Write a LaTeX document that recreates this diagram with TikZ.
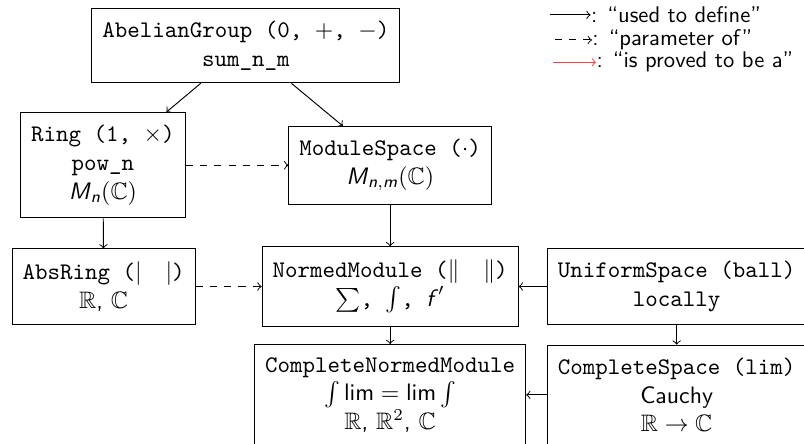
\documentclass[tikz,border=0pt]{standalone}
\usepackage{amsmath,amssymb}
\usetikzlibrary{positioning}
\newcommand\mi[1]{\text{\sffamily\itshape #1\/}}
\newcommand\slim{\mathop{\text{\sffamily lim}}}

\begin{document}
\sffamily
\begin{tikzpicture}[box/.style={draw,align=center,inner xsep=4.4pt,inner ysep=5.4pt},legend/.style={anchor=west,inner sep=0pt,font=\fontsize{9.5}{11}\selectfont}]
\useasboundingbox (0,0) rectangle (11.87,-6.55);
\clip (0,0) rectangle (11.87,-6.55);
\node[box] (grp) at (3.63,-0.672) {\texttt{AbelianGroup (0, $+$, $-$)}\\\texttt{sum\_n\_m}};
\node[box] (ring) at (1.52,-2.44) {\texttt{Ring (1, $\times$)}\\\texttt{pow\_n}\\$\mi{M}_{\mi{n}}(\mathbb{C})$};
\node[box] (mod) at (5.76,-2.44) {\texttt{ModuleSpace ($\cdot$)}\\$\mi{M}_{\mi{n},\mi{m}}(\mathbb{C})$};
\node[box] (abs) at (1.53,-4.23) {\texttt{AbsRing (}$|\quad|$\texttt{)}\\$\mathbb{R}$, $\mathbb{C}$};
\node[box] (norm) at (5.76,-4.23) {\texttt{NormedModule (}$\|\quad\|$\texttt{)}\\$\sum$\texttt{, }$\int$\texttt{, }$\mi{f}'$};
\node[box] (cnm) at (5.76,-5.83) {\texttt{CompleteNormedModule}\\$\int\slim=\slim\int$\\$\mathbb{R}$, $\mathbb{R}^2$, $\mathbb{C}$};
\node[box] (unif) at (9.99,-4.23) {\texttt{UniformSpace (ball)}\\\texttt{locally}};
\node[box] (cspace) at (9.99,-5.83) {\texttt{CompleteSpace (lim)}\\Cauchy\\$\mathbb{R}\to\mathbb{C}$};
\draw[->] (grp)--(ring);
\draw[->] (grp)--(mod);
\draw[->,dashed] (ring)--(mod);
\draw[->] (ring)--(abs);
\draw[->] (mod)--(norm);
\draw[->,dashed] (abs)--(norm);
\draw[->] (unif)--(norm);
\draw[->] (norm)--(cnm);
\draw[->] (unif)--(cspace);
\draw[->] (cspace)--(cnm);
\node[legend] (used) at (8.72,-0.22) {: ``used to define''};
\node[legend] (param) at (8.74,-0.59) {: ``parameter of''};
\node[legend] (proved) at (8.80,-0.92) {: ``is proved to be a''};
\coordinate (usedtail) at (8.12,-0.22);
\coordinate (paramtail) at (8.19,-0.59);
\coordinate (provedtail) at (8.17,-0.92);
\draw[->] (usedtail)--(used.west);
\draw[->,dashed] (paramtail)--(param.west);
\draw[->,red!75] (provedtail)--(proved.west);
\end{tikzpicture}
\end{document}
